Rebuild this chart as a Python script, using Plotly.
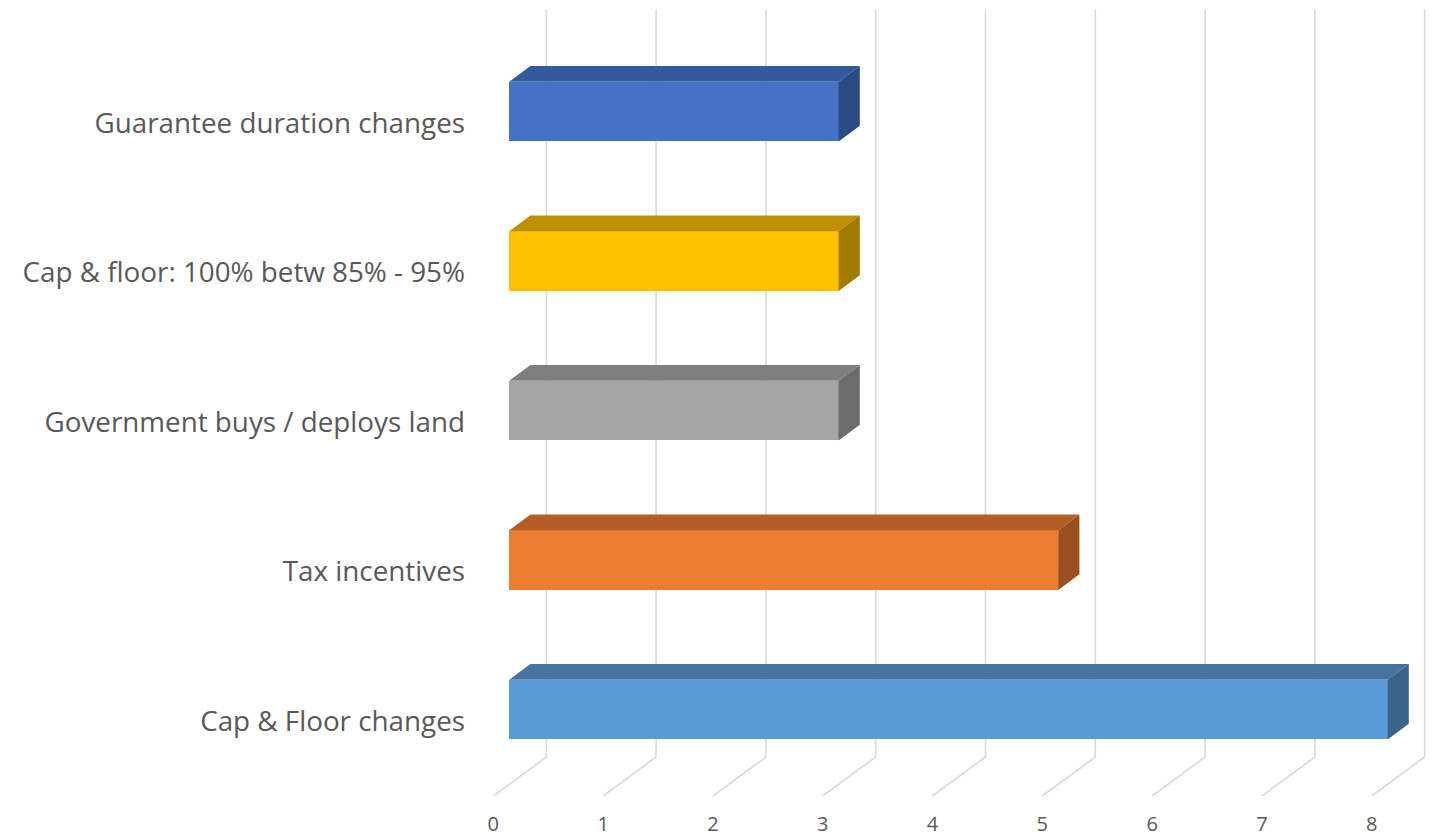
import plotly.graph_objects as go

# ---- data (bottom to top) ----
categories = [
    "Cap & Floor changes",
    "Tax incentives",
    "Government buys / deploys land",
    "Cap & floor: 100% betw 85% - 95%",
    "Guarantee duration changes",
]
values = [8, 5, 3, 3, 3]
x_ticks = [0, 1, 2, 3, 4, 5, 6, 7, 8]

front_colors = ["#5B9BD5", "#ED7D31", "#A5A5A5", "#FFC000", "#4472C4"]
top_colors = ["#44749F", "#B45E25", "#7F7F7F", "#BF9000", "#335A9E"]
side_colors = ["#3A6487", "#9A4F1E", "#6C6C6C", "#A27A00", "#2A4A82"]

# ---- page / plot geometry ----
W, H = 1432, 836
M_L, M_R, M_T, M_B = 478, 0, 0, 40
plot_w = W - M_L - M_R
plot_h = H - M_T - M_B
px_per_val = 109.8
px_per_cat = 149.5
x0_px = 15.3                       # value 0 sits this far right of the plot edge
x_range = [-x0_px / px_per_val, (plot_w - x0_px) / px_per_val]
y_range = [-0.5, -0.5 + plot_h / px_per_cat]

# oblique depth vector (front floor edge -> back wall), in axis units
depth_dx = 53 / px_per_val
depth_dy = 39 / px_per_cat
bar_z0, bar_z1 = 0.3, 0.7          # bar occupies the middle 40% of the depth
bar_half = 0.2                     # bar thickness: 40% of a category band
wall_top = len(categories) - 0.5

fig = go.Figure()

# back-wall gridlines and floor lines
grid_color = "#D9D9D9"
shapes = []
for k in x_ticks:
    shapes.append(dict(type="line", layer="below", xref="x", yref="y",
                       x0=k, y0=-0.5, x1=k + depth_dx, y1=-0.5 + depth_dy,
                       line=dict(color=grid_color, width=1.6)))
    shapes.append(dict(type="line", layer="below", xref="x", yref="y",
                       x0=k + depth_dx, y0=-0.5 + depth_dy,
                       x1=k + depth_dx, y1=wall_top + depth_dy,
                       line=dict(color=grid_color, width=1.6)))

# 3D bars: front face as a bar, top and side faces as filled polygons
ox0, oy0 = bar_z0 * depth_dx, bar_z0 * depth_dy
ox1, oy1 = bar_z1 * depth_dx, bar_z1 * depth_dy
for i, (cat, v) in enumerate(zip(categories, values)):
    yc = i
    fig.add_trace(go.Bar(
        x=[v], y=[yc + oy0], base=[ox0], orientation="h", width=2 * bar_half,
        marker=dict(color=front_colors[i], line=dict(width=0)),
        hoverinfo="text", hovertext=f"{cat}: {v}", showlegend=False,
    ))
    # top face
    fig.add_trace(go.Scatter(
        x=[ox0, ox0 + v, ox1 + v, ox1, ox0],
        y=[yc + bar_half + oy0, yc + bar_half + oy0, yc + bar_half + oy1,
           yc + bar_half + oy1, yc + bar_half + oy0],
        mode="lines", fill="toself", fillcolor=top_colors[i],
        line=dict(width=0, color=top_colors[i]), hoverinfo="skip", showlegend=False,
    ))
    # right side face
    fig.add_trace(go.Scatter(
        x=[ox0 + v, ox1 + v, ox1 + v, ox0 + v, ox0 + v],
        y=[yc + bar_half + oy0, yc + bar_half + oy1, yc - bar_half + oy1,
           yc - bar_half + oy0, yc + bar_half + oy0],
        mode="lines", fill="toself", fillcolor=side_colors[i],
        line=dict(width=0, color=side_colors[i]), hoverinfo="skip", showlegend=False,
    ))

font_family = "Open Sans, Noto Sans, sans-serif"
fig.update_layout(
    width=W, height=H,
    margin=dict(l=M_L, r=M_R, t=M_T, b=M_B, autoexpand=False),
    paper_bgcolor="white", plot_bgcolor="white",
    shapes=shapes, barmode="overlay", bargap=0,
    font=dict(family=font_family, color="#595959"),
    xaxis=dict(range=x_range, tickvals=x_ticks, ticktext=[str(t) for t in x_ticks],
               showgrid=False, zeroline=False, showline=False, ticks="",
               tickfont=dict(size=20, color="#595959"), ticklabelstandoff=14,
               fixedrange=True, automargin=False),
    yaxis=dict(range=y_range, tickvals=list(range(len(categories))),
               ticktext=categories, showgrid=False, zeroline=False,
               showline=False, ticks="",
               tickfont=dict(size=27.8, color="#595959"), ticklabelstandoff=12,
               fixedrange=True, automargin=False),
)

fig.write_html("out.html")
